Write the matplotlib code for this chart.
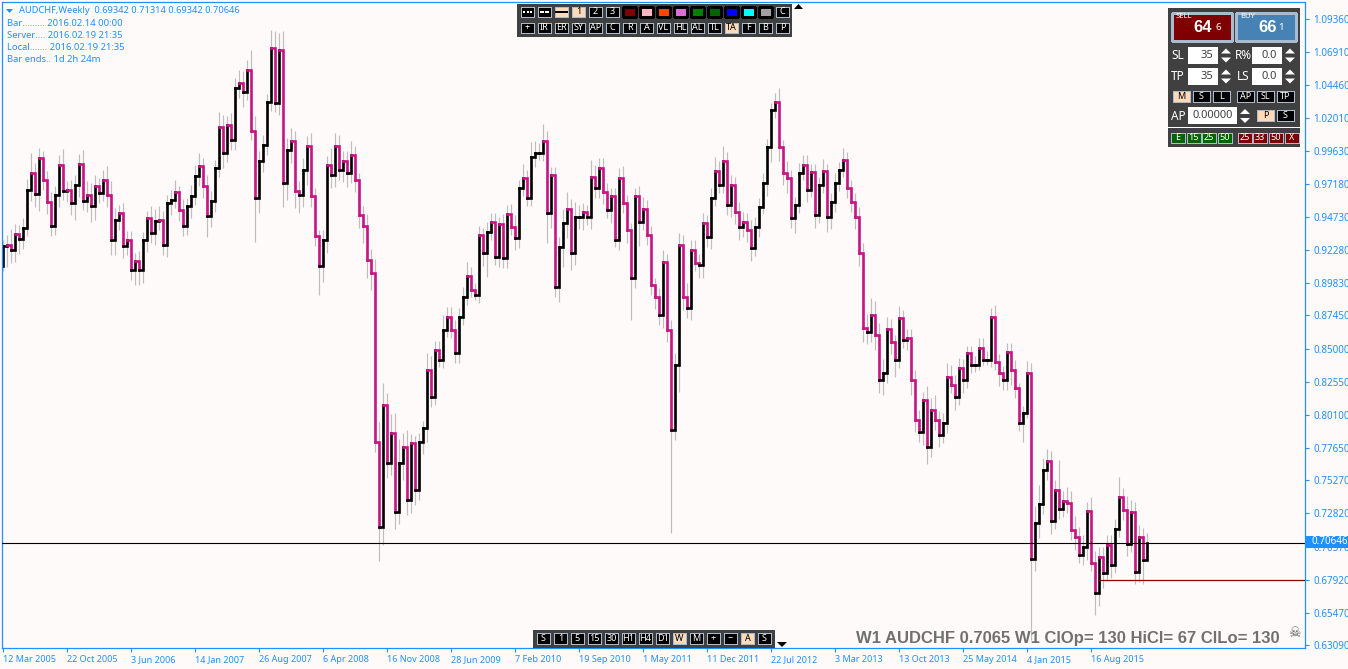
import matplotlib
matplotlib.use('Agg')
import numpy as np
import matplotlib.pyplot as plt
from matplotlib.collections import LineCollection
from matplotlib.patches import Rectangle

plt.rcParams['font.family'] = ['Noto Sans', 'DejaVu Sans']

BG = '#FFFAFA'
BLUE = '#1E90FF'
UP = '#000000'
DOWN = '#C71585'
WICK = '#BEBEBE'
PANEL = '#404040'
ACTIVE = '#FFDAB9'
EDGE = '#A9BCCF'

# cierres (una barra cada 4 px)
first_open = 0.9108
closes_a = [.9256, .9268, .9231, .9349, .9310, .9391, .9669, .9797, .9645, .9908,
            .9748, .9581, .9404, .9637, .9859, .9662, .9674, .9576, .9711, .9866,
            .9588, .9637, .9551, .9699, .9650, .9748, .9637, .9305, .9453, .9502,
            .9256, .9305, .9084, .9145, .9084, .9300, .9465, .9354, .9441, .9453,
            .9268, .9576, .9600, .9655, .9527, .9404, .9551, .9625, .9773, .9846]
closes_b = [.9699, .9477, .9588, .9834, 1.0137, .9945, 1.0154, 1.0043, 1.0425, 1.0461,
            1.0400, 1.0560, 1.0105, .9613, .9883, 1.0006, 1.0319, 1.0720, 1.0314, 1.0707,
            .9723, .9969, 1.0031, .9662, .9637, .9822, .9994, .9625, .9330, .9108,
            .9305, .9859, .9785, .9994, .9822, .9883, .9797, .9933, .9748, .9490,
            .9404, .9158, .9059]
closes_c = [.7810, .7182, .8083, .7655, .7877, .7293, .7655, .7773, .7381, .7803,
            .7455, .7810, .7913, .8342, .8143, .8490, .8416, .8638, .8734, .8638,
            .8468, .8734, .8882, .9037, .8933, .8896]
closes_d = [.9340, .9207, .9362, .9436, .9177, .9421, .9170, .9495, .9399, .9318,
            .9687, .9761, .9613, .9916, .9946, .9946, 1.0034, .9502, .9783, .8955,
            .9251, .9428, .9532, .9207, .9473, .9473, .9510, .9473, .9768, .9687,
            .9835, .9658, .9525, .9628, .9303, .9761, .9576, .9377, .9022, .9628,
            .9436, .9532, .9340, .8970, .8882, .8749, .9140, .8638, .7899, .8379,
            .9266, .8882, .8800, .9229, .9133, .9118]
closes_e = [.9428, .9325, .9613, .9813, .9709, .9887, .9561, .9709, .9510, .9399,
            .9436, .9377, .9244, .9399, .9547, .9724, .9990, 1.0264, 1.0323, .9990,
            .9798, .9761, .9465, .9561, .9798, .9857, .9672, .9805, .9488, .9709,
            .9813, .9473, .9584, .9724, .9820, .9894, .9687, .9584, .9473, .9207,
            .8652, .8623, .8749, .8601, .8268]
closes_f = [.8320, .8645, .8549, .8416, .8726, .8564, .8579, .8268, .7973, .7884,
            .8120, .7773, .8047, .7973, .7862, .7950, .8290, .8231, .8143, .8357,
            .8268, .8468, .8379, .8379, .8505, .8416, .8416, .8734, .8401, .8320,
            .8268, .8475, .8342, .8209, .7950, .8024, .8320]
closes_g = [.6945, .7211, .7352, .7603, .7670, .7226, .7455, .7315, .7374, .7359,
            .7160, .7108, .6975, .7034, .7300, .6916, .6694, .6960, .6842, .7049,
            .6901, .7167, .7404, .7308, .7056, .7293, .6849, .7108, .6938, .70646]

# largo de las mechas, en unidades de 0.00125 de precio
wick_up = [4, 6, 9, 6, 5, 6, 7, 12, 6, 6, 4, 5, 6, 5, 6, 9, 5, 6, 6, 6, 8, 8, 7, 7, 5, 6, 8, 8, 7, 5,
           6, 5, 5, 5, 6, 5, 4, 7, 7, 8, 5, 5, 6, 7, 4, 6, 5, 7, 7, 8,
           5, 7, 6, 5, 9, 7, 5, 7, 6, 8, 7, 6, 12, 9, 6, 6, 5, 11, 10, 10, 11, 7, 8, 6, 6, 7, 6, 8, 5, 4,
           6, 5, 10, 8, 7, 6, 6, 8, 5, 4, 5, 7, 6,
           8, 12, 13, 7, 11, 12, 14, 8, 10, 5, 4, 5, 4, 10, 8, 5, 5, 9, 6, 6, 6, 5, 6, 8, 5, 4,
           5, 4, 6, 5, 5, 4, 6, 5, 6, 7, 5, 8, 5, 9, 7, 6, 10, 6, 5, 5, 6, 8, 10, 6, 9, 7, 5, 4, 10, 7,
           6, 6, 5, 5, 5, 6, 7, 5, 4, 5, 6, 7, 5, 5, 4, 5, 7, 5, 6, 7, 7, 6, 8, 6, 6, 5,
           6, 5, 6, 8, 6, 9, 5, 6, 5, 6, 6, 5, 6, 6, 5, 6, 5, 4, 5, 8, 4, 7, 5, 5, 6, 6, 6, 5, 5, 5,
           7, 4, 5, 6, 5, 7, 5, 5, 5, 6, 6, 8, 10, 8, 7,
           8, 7, 6, 4, 7, 5, 5, 5, 6, 6, 5, 8, 7, 9, 5, 6, 8, 7, 6, 6, 5, 4, 4, 5, 6, 6, 5, 5, 7, 5,
           4, 5, 5, 6, 3, 4, 7,
           6, 10, 11, 7, 7, 6, 6, 18, 6, 8, 7, 8, 6, 7, 5, 8, 7, 6, 6, 6, 6, 6, 12, 5, 8, 7, 6, 7, 5, 6]
wick_down = [3, 12, 8, 7, 9, 6, 5, 6, 8, 10, 6, 7, 6, 5, 7, 5, 6, 7, 10, 7, 5, 6, 9, 8, 6, 5, 7, 9, 9, 6,
             7, 5, 6, 9, 9, 8, 7, 6, 7, 5, 6, 7, 7, 5, 7, 6, 5, 7, 5, 6,
             7, 12, 6, 6, 5, 9, 5, 6, 6, 6, 9, 5, 5, 26, 9, 6, 6, 5, 5, 7, 14, 10, 8, 10, 11, 7, 9, 6, 6, 17,
             9, 8, 8, 7, 6, 7, 8, 6, 7, 8, 10, 11, 10,
             6, 20, 11, 9, 7, 10, 7, 10, 9, 8, 9, 6, 7, 8, 6, 5, 4, 5, 4, 5, 6, 6, 5, 5, 4, 3,
             5, 8, 14, 5, 5, 6, 6, 6, 5, 7, 6, 5, 5, 5, 6, 4, 5, 18, 9, 6, 9, 12, 9, 10, 7, 7, 8, 5, 7, 6,
             6, 7, 5, 8, 4, 6, 6, 8, 25, 6, 14, 5, 6, 6, 7, 6, 8, 7, 61, 6, 16, 8, 6, 7, 5, 8,
             8, 6, 7, 5, 5, 5, 6, 7, 7, 8, 6, 7, 8, 5, 6, 4, 8, 9, 5, 8, 7, 9, 6, 9, 5, 4, 7, 4, 8, 5,
             5, 9, 7, 6, 5, 4, 6, 6, 7, 8, 8, 7, 6, 9, 8,
             9, 6, 7, 10, 5, 5, 6, 9, 7, 6, 8, 10, 6, 6, 7, 5, 6, 5, 8, 5, 8, 5, 5, 4, 3, 3, 3, 4, 5, 8,
             6, 6, 9, 6, 5, 11, 3,
             48, 7, 9, 6, 6, 8, 5, 6, 5, 6, 6, 8, 5, 6, 8, 5, 13, 8, 9, 5, 8, 5, 5, 6, 7, 5, 7, 6, 14, 0]

date_labels = ['12 Mar 2005', '22 Oct 2005', '3 Jun 2006', '14 Jan 2007', '26 Aug 2007', '6 Apr 2008',
               '16 Nov 2008', '28 Jun 2009', '7 Feb 2010', '19 Sep 2010', '1 May 2011', '11 Dec 2011',
               '22 Jul 2012', '3 Mar 2013', '13 Oct 2013', '25 May 2014', '4 Jan 2015', '16 Aug 2015']
price_ticks = [1.09360, 1.06910, 1.04460, 1.02010, 0.99630, 0.97180, 0.94730, 0.92280, 0.89830, 0.87450,
               0.85000, 0.82550, 0.80100, 0.77650, 0.75270, 0.72820, 0.70370, 0.67920, 0.65470, 0.63090]
last_price = 0.70646
level_price = 0.67920

info_lines = ['Bar......... 2016.02.14 00:00', 'Server.... 2016.02.19 21:35',
              'Local....... 2016.02.19 21:35', 'Bar ends.. 1d 2h 24m']
top_row1 = ['', '', '', '1', '2', '3', '', '', '', '', '', '', '', '', '', 'C']
top_swatches = [None, None, None, None, None, None, '#7F0000', '#FFB6C1', '#FF4500', '#DA70D6',
                '#008000', '#006400', '#0000FF', '#00FFFF', '#A0A0A0', None]
top_row2 = ['+', 'IR', 'ER', 'SY', 'AP', 'C', 'R', 'A', 'VL', 'HL', 'AL', 'TL', 'TA', 'F', 'B', 'P']
bottom_row = ['S', '1', '5', '15', '30', 'H1', 'H4', 'D1', 'W', 'M', '+', '−', 'A', 'S']

closes = np.array(closes_a + closes_b + closes_c + closes_d + closes_e + closes_f + closes_g)
opens = np.concatenate([[first_open], closes[:-1]])
idx = np.arange(len(closes))
highs = np.maximum(opens, closes) + np.array(wick_up) * 0.00125
lows = np.minimum(opens, closes) - np.array(wick_down) * 0.00125

fig = plt.figure(figsize=(13.48, 6.69), dpi=100, facecolor=BG)
ax = fig.add_axes([2 / 1348, 21 / 669, 1303 / 1348, 646 / 669], facecolor=BG)

ax.vlines(idx, lows, highs, color=WICK, lw=0.85, zorder=1)

# cuerpo como linea escalonada, igual que en el original
segs = [[(i - 1, o), (i, o), (i, c)] for i, o, c in zip(idx, opens, closes)]
cols = [UP if c >= o else DOWN for o, c in zip(opens, closes)]
ax.add_collection(LineCollection(segs, colors=cols, linewidths=1.9, capstyle='projecting',
                                 joinstyle='miter', zorder=2))

ax.axhline(last_price, color='black', lw=0.8, zorder=3)
ax.hlines(level_price, 273.75, 325.5, color='#8B0000', lw=0.9, zorder=3)

ax.set_xlim(-0.25, 325.5)
ax.set_ylim(0.62868, 1.10616)
ax.yaxis.tick_right()
ax.set_yticks(price_ticks)
ax.set_yticklabels([f'{p:.5f}' for p in price_ticks])
ax.set_xticks(np.arange(len(date_labels)) * 16)
ax.set_xticklabels(date_labels, ha='left')
ax.tick_params(axis='x', colors=BLUE, labelsize=6.5, length=3, width=0.8, pad=2)
ax.tick_params(axis='y', colors=BLUE, labelsize=7.1, length=3, width=0.8, pad=3)
for s in ax.spines.values():
    s.set_color(BLUE)
    s.set_linewidth(0.9)

# capa de interfaz en pixeles
ui = fig.add_axes([0, 0, 1, 1], zorder=5)
ui.set_xlim(0, 1348)
ui.set_ylim(669, 0)
ui.axis('off')


def box(x0, y0, x1, y1, fc, ec='none', lw=0.0):
    ui.add_patch(Rectangle((x0, y0), x1 - x0, y1 - y0, fc=fc, ec=ec, lw=lw, antialiased=False))


def label(x, y, s, color='white', size=6.5, ha='center', weight='normal', **kw):
    ui.text(x, y, s, color=color, fontsize=size, ha=ha, va='center', fontweight=weight, **kw)


def button(x0, y0, x1, y1, s, active=False, fc='black'):
    box(x0, y0, x1, y1, ACTIVE if active else fc, EDGE, 0.7)
    label((x0 + x1) / 2, (y0 + y1) / 2 - 0.3, s, 'black' if active else 'white')


def arrows(x, y0, y1):
    ui.fill([x - 5, x + 5, x], [y0, y0, y0 - 5], color='white', lw=0)
    ui.fill([x - 5, x + 5, x], [y1, y1, y1 + 5], color='white', lw=0)


# textos de arriba a la izquierda
ui.fill([6, 13, 9.5], [9, 9, 13], color=BLUE, lw=0)
label(19, 10.5, 'AUDCHF,Weekly  0.69342 0.71314 0.69342 0.70646', BLUE, 6.7, 'left')
for n, line in enumerate(info_lines):
    label(7, 23.5 + 12 * n, line, BLUE, 6.8, 'left')

# panel superior
box(517, 4, 792, 37, PANEL)
for n in range(16):
    x0 = 521 + 17 * n
    swatch = top_swatches[n]
    if swatch:
        box(x0, 7, x0 + 13, 17, swatch, 'black', 0.8)
    else:
        button(x0, 7, x0 + 13, 17, top_row1[n], n in (2, 3))
    button(x0, 23, x0 + 13, 33, top_row2[n], n == 12)
for xd in (523, 526.5, 530):
    box(xd, 11, xd + 2, 13, 'white')
for xd in (540, 545):
    box(xd, 11, xd + 4, 13, 'white')
box(555, 11, 568, 13, 'black')
ui.fill([794, 803, 798.5], [9, 9, 4], color='black', lw=0)

# panel inferior
box(533, 630, 775, 648, PANEL)
for n, s in enumerate(bottom_row):
    x0 = 537 + 17 * n
    button(x0, 633, x0 + 13, 644, s, n in (8, 12))
ui.fill([777, 787, 782], [642, 642, 647], color='black', lw=0)

# panel de operaciones
box(1168, 8, 1300, 127, PANEL)
box(1168, 128, 1300, 147, PANEL)
box(1172, 13, 1232, 41, '#7F0000', EDGE, 0.9)
box(1236, 13, 1296, 41, '#4682B4', EDGE, 0.9)
label(1176, 17, 'SELL', size=5.5, ha='left', weight='bold')
label(1240, 17, 'BUY', size=5.5, ha='left', weight='bold')
label(1203, 28, '64', size=12, weight='bold', family='Liberation Sans')
label(1218, 28, '6', size=7)
label(1268, 28, '66', size=12, weight='bold', family='Liberation Sans')
label(1281, 28, '1', size=7)

for y, left, right, lval, rval in [(55.5, 'SL', 'R%', '35', '0.0'), (76.5, 'TP', 'LS', '35', '0.0')]:
    label(1178, y, left, size=8.5)
    box(1188, y - 8.5, 1218, y + 8.5, 'white')
    label(1213, y, lval, '#404040', 8, 'right')
    arrows(1226, y - 2, y + 2)
    label(1243, y, right, size=8.5)
    box(1252, y - 8.5, 1282, y + 8.5, 'white')
    label(1277, y, rval, '#404040', 8, 'right')
    arrows(1290, y - 2, y + 2)

for x0, s, on in [(1173, 'M', True), (1193, 'S', False), (1213, 'L', False),
                  (1237, 'AP', False), (1257, 'SL', False), (1277, 'TP', False)]:
    button(x0, 91, x0 + 17, 102, s, on)

label(1178, 116, 'AP', size=8.5)
box(1188, 107, 1237, 124, 'white')
label(1233, 116, '0.00000', '#404040', 8, 'right')
arrows(1245, 114, 118)
button(1257, 110, 1274, 121, 'P', True)
button(1277, 110, 1294, 121, 'S')

for x0, s, c in [(1171, 'E', '#006400'), (1187, '15', '#006400'), (1202, '25', '#006400'), (1218, '50', '#006400'),
                 (1238, '25', '#7F0000'), (1253, '33', '#7F0000'), (1269, '50', '#7F0000'), (1285, 'X', '#7F0000')]:
    button(x0, 133, x0 + 13.5, 143, s, fc=c)

# precio actual y rotulo inferior
box(1305, 536, 1348, 548, BLUE)
label(1312, 542, '0.70646', 'white', 7.1, 'left')
label(1280, 638, 'W1 AUDCHF 0.7065 W1 ClOp= 130 HiCl= 67 ClLo= 130', '#707070', 11.95, 'right',
      'bold', family='Liberation Sans')
label(1294, 633, '☠', '#606060', 10, family='DejaVu Sans')

fig.savefig('out.png', dpi=100, facecolor=BG)
